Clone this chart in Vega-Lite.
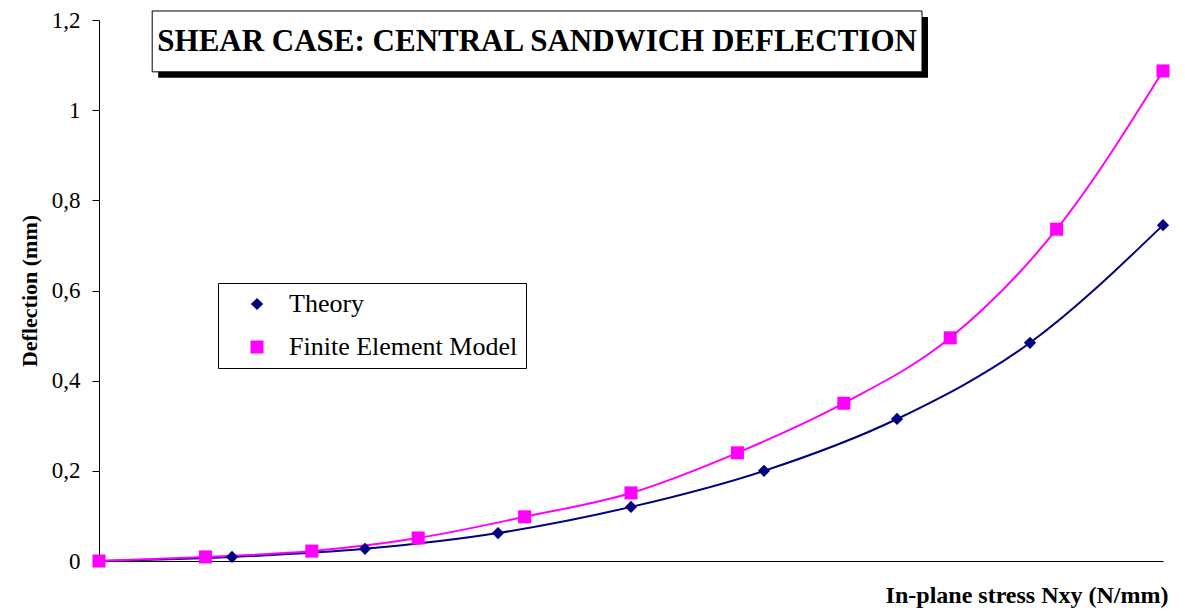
{
  "$schema": "https://vega.github.io/schema/vega-lite/v6.json",
  "width": 1064,
  "height": 541,
  "autosize": {"type": "none"},
  "padding": {"left": 99, "top": 20, "right": 22, "bottom": 55},
  "background": "white",
  "config": {
    "view": {"stroke": null},
    "font": "Liberation Serif",
    "axis": {"grid": false, "domainColor": "black", "tickColor": "black", "labelColor": "black", "titleColor": "black", "labelFont": "Liberation Serif", "titleFont": "Liberation Serif"},
    "axisY": {"labelFont": "Liberation Serif", "titleFont": "Liberation Serif"},
    "axisLeft": {"labelFont": "Liberation Serif", "titleFont": "Liberation Serif"}
  },
  "data": {
    "values": [
      {"series": "Theory", "x": 0, "y": 0},
      {"series": "Theory", "x": 5, "y": 0.009},
      {"series": "Theory", "x": 10, "y": 0.027},
      {"series": "Theory", "x": 15, "y": 0.062},
      {"series": "Theory", "x": 20, "y": 0.12},
      {"series": "Theory", "x": 25, "y": 0.2},
      {"series": "Theory", "x": 30, "y": 0.315},
      {"series": "Theory", "x": 35, "y": 0.484},
      {"series": "Theory", "x": 40, "y": 0.745},
      {"series": "Finite Element Model", "x": 0, "y": 0},
      {"series": "Finite Element Model", "x": 4, "y": 0.009},
      {"series": "Finite Element Model", "x": 8, "y": 0.022},
      {"series": "Finite Element Model", "x": 12, "y": 0.051},
      {"series": "Finite Element Model", "x": 16, "y": 0.098},
      {"series": "Finite Element Model", "x": 20, "y": 0.151},
      {"series": "Finite Element Model", "x": 24, "y": 0.24},
      {"series": "Finite Element Model", "x": 28, "y": 0.35},
      {"series": "Finite Element Model", "x": 32, "y": 0.495},
      {"series": "Finite Element Model", "x": 36, "y": 0.736},
      {"series": "Finite Element Model", "x": 40, "y": 1.087}
    ]
  },
  "layer": [
    {
      "mark": {"type": "line", "strokeWidth": 2, "interpolate": "monotone"},
      "encoding": {
        "x": {"field": "x", "type": "quantitative", "scale": {"domain": [0, 40], "nice": false, "zero": false},
          "axis": {"title": "In-plane stress Nxy (N/mm)", "labels": false, "ticks": false, "titleFont": "Liberation Serif", "titleFontSize": 24, "titleFontWeight": "bold", "titleAnchor": "end", "titlePadding": 22, "titleX": 1069}},
        "y": {"field": "y", "type": "quantitative", "scale": {"domain": [0, 1.2], "nice": false},
          "axis": {"title": "Deflection (mm)", "values": [0, 0.2, 0.4, 0.6, 0.8, 1, 1.2], "labelExpr": "replace(format(datum.value, '.1~f'), '.', ',')", "labelFont": "Liberation Serif", "labelFontSize": 23, "tickSize": 7, "labelPadding": 12, "titleFont": "Liberation Serif", "titleFontSize": 22, "titleFontWeight": "bold", "titlePadding": 10}},
        "color": {"field": "series", "type": "nominal",
          "scale": {"domain": ["Theory", "Finite Element Model"], "range": ["#000080", "#FF00FF"]},
          "legend": {"title": null, "orient": "none", "legendX": 119, "legendY": 263, "padding": 8, "strokeColor": "black", "fillColor": "white", "labelFont": "Liberation Serif", "labelFontSize": 26, "labelColor": "black", "labelLimit": 500, "symbolSize": 400, "symbolStrokeWidth": 0, "symbolOffset": 18, "labelOffset": 19, "rowPadding": 17,
            "encode": {"symbols": {"update": {
              "shape": {"signal": "datum.value === 'Theory' ? 'M-2.8,-0.1H2.8V0.1H-2.8ZM0,-0.65L0.65,0L0,0.65L-0.65,0Z' : 'M-2.8,-0.1H2.8V0.1H-2.8ZM-0.6,-0.6H0.6V0.6H-0.6Z'"},
              "fill": {"signal": "datum.value === 'Theory' ? '#000080' : '#FF00FF'"},
              "fillOpacity": {"value": 1},
              "opacity": {"value": 1}
            }}}}
        }
      }
    },
    {
      "mark": {"type": "point", "filled": true, "opacity": 1},
      "encoding": {
        "x": {"field": "x", "type": "quantitative"},
        "y": {"field": "y", "type": "quantitative"},
        "color": {"field": "series", "type": "nominal", "legend": null},
        "shape": {"field": "series", "type": "nominal", "scale": {"domain": ["Theory", "Finite Element Model"], "range": ["diamond", "square"]}, "legend": null},
        "size": {"field": "series", "type": "nominal", "scale": {"domain": ["Theory", "Finite Element Model"], "range": [150, 170]}, "legend": null}
      }
    },
    {
      "data": {"values": [{}]},
      "mark": {"type": "rect", "color": "black", "xOffset": 6, "x2Offset": 6, "yOffset": 6, "y2Offset": 6},
      "encoding": {"x": {"datum": 2.0}, "x2": {"datum": 30.94}, "y": {"datum": 1.22}, "y2": {"datum": 1.085}}
    },
    {
      "data": {"values": [{}]},
      "mark": {"type": "rect", "fill": "white", "stroke": "black", "strokeWidth": 1},
      "encoding": {"x": {"datum": 2.0}, "x2": {"datum": 30.94}, "y": {"datum": 1.22}, "y2": {"datum": 1.085}}
    },
    {
      "data": {"values": [{}]},
      "mark": {"type": "text", "font": "Liberation Serif", "fontWeight": "bold", "fontSize": 31, "align": "center", "baseline": "middle", "color": "black"},
      "encoding": {"x": {"datum": 16.47}, "y": {"datum": 1.152}, "text": {"value": "SHEAR CASE: CENTRAL SANDWICH DEFLECTION"}}
    }
  ]
}
